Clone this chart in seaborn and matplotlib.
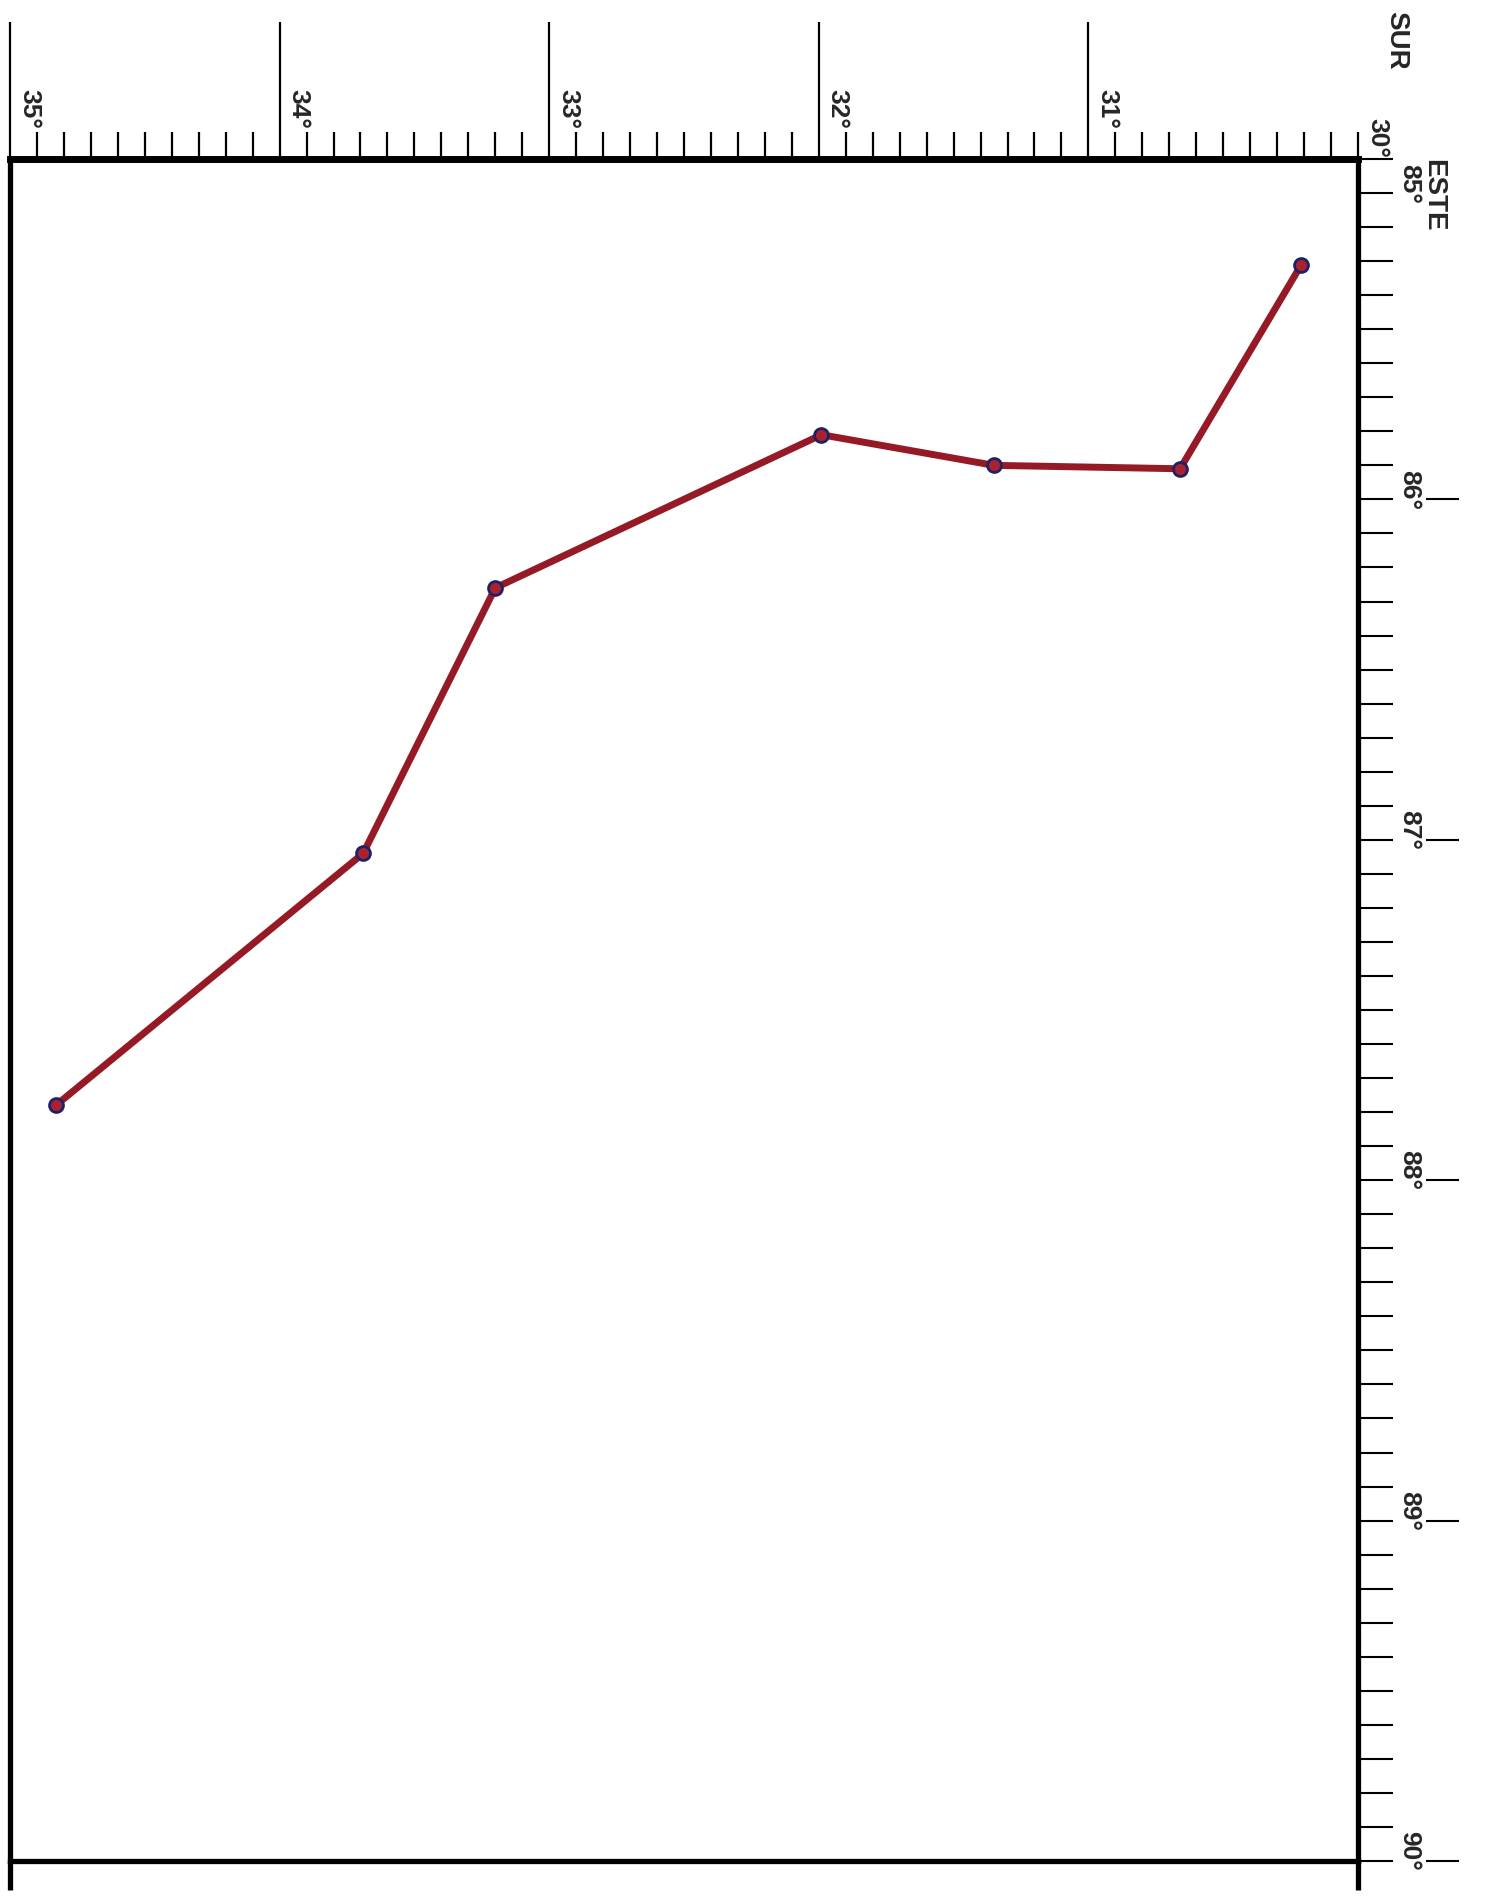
import numpy as np
import matplotlib
matplotlib.use("Agg")
import matplotlib.pyplot as plt
from matplotlib.ticker import MultipleLocator
import seaborn as sns

# route: latitude south (SUR) vs longitude east (ESTE)
lat = [34.83, 33.69, 33.20, 31.99, 31.35, 30.66, 30.21]
lon = [87.78, 87.04, 86.26, 85.81, 85.90, 85.91, 85.31]

lat_ticks = [35, 34, 33, 32, 31, 30]
lat_labels = ['35°', '34°', '33°', '32°', '31°', '30°']
lon_ticks = [85, 86, 87, 88, 89, 90]
lon_labels = ['85°', '86°', '87°', '88°', '89°', '90°']

sns.set_style('white')
plt.rcParams['font.family'] = ['Liberation Sans', 'DejaVu Sans']

W, H = 1492, 1903
fig = plt.figure(figsize=(W / 100, H / 100), dpi=100)
ax = fig.add_axes([10 / W, 42 / H, 1348 / W, 1702 / H])

sns.lineplot(x=lat, y=lon, sort=False, estimator=None, ax=ax,
             color='#961a26', linewidth=5, marker='o', markersize=10,
             markerfacecolor='#a8232f', markeredgecolor='#1f2066',
             markeredgewidth=2)

ax.set_xlim(35, 30)
ax.set_ylim(90, 85)
ax.set_xlabel('')
ax.set_ylabel('')

# top scale: long ticks at whole degrees (not at 30), short ones every 0.1
ax.xaxis.tick_top()
ax.set_xticks(lat_ticks[:-1])
ax.xaxis.set_minor_locator(MultipleLocator(0.1))
ax.tick_params(axis='x', which='major', direction='out', length=99, width=1.6,
               color='k', top=True, bottom=False, labeltop=False, labelbottom=False)
ax.tick_params(axis='x', which='minor', direction='out', length=19.5, width=1.6,
               color='k', top=True, bottom=False)

# right scale: same short ticks everywhere
ax.yaxis.tick_right()
ax.set_yticks(lon_ticks)
ax.yaxis.set_minor_locator(MultipleLocator(0.1))
ax.tick_params(axis='y', which='both', direction='out', length=25, width=1.5,
               color='k', right=True, left=False, labelright=False, labelleft=False)

for side, lw in [('top', 5), ('right', 3.8), ('left', 3.8), ('bottom', 3.8)]:
    ax.spines[side].set_visible(True)
    ax.spines[side].set_color('k')
    ax.spines[side].set_linewidth(lw)

# frame lines run a little past the bottom edge
for xa in (0, 1):
    ax.plot([xa, xa], [0, -0.017], transform=ax.transAxes, clip_on=False,
            color='k', lw=3.8, solid_capstyle='butt')

# separate dashes beside whole-degree longitudes (none at the corner)
ax.hlines(lon_ticks[1:], 1.0504, 1.075, transform=ax.get_yaxis_transform(),
          clip_on=False, color='k', lw=1.5)

for v, lab in zip(lat_ticks, lat_labels):
    dy = 15 if v == lat_ticks[-1] else 36
    ax.annotate(lab, xy=(v, 1), xycoords=('data', 'axes fraction'),
                xytext=(13.7, dy), textcoords='offset points', rotation=270,
                ha='center', va='center', fontsize=19, fontweight='bold')

for v, lab in zip(lon_ticks, lon_labels):
    dy = -18 if v == lon_ticks[0] else 7
    ax.annotate(lab, xy=(1, v), xycoords=('axes fraction', 'data'),
                xytext=(37, dy), textcoords='offset points', rotation=270,
                ha='center', va='center', fontsize=19, fontweight='bold')

fig.text(1396 / W, 1 - 40 / H, 'SUR', rotation=270, ha='center', va='center',
         fontsize=20, fontweight='bold')
fig.text(1433 / W, 1 - 195 / H, 'ESTE', rotation=270, ha='center', va='center',
         fontsize=20, fontweight='bold')

fig.savefig('out.png', dpi=100)
